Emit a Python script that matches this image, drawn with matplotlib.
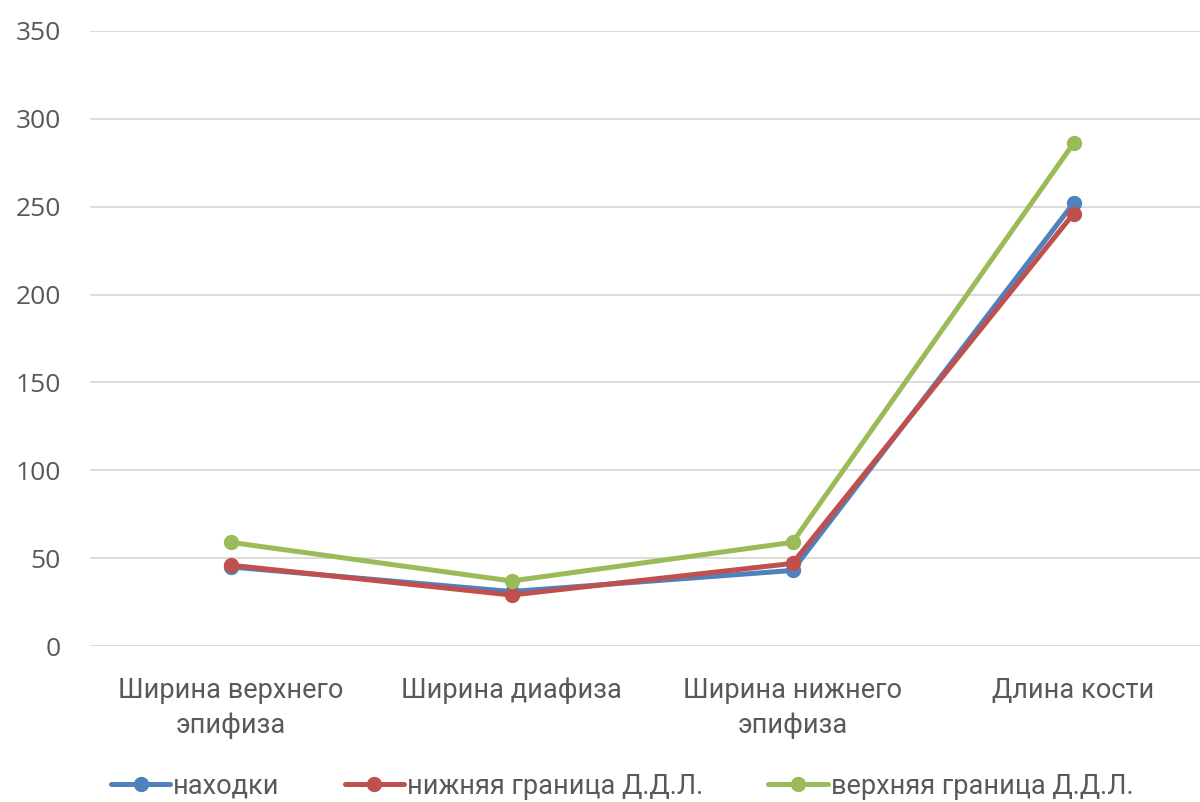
import matplotlib
matplotlib.use("Agg")
import matplotlib.pyplot as plt
from matplotlib import font_manager

categories = ["Ширина верхнего\nэпифиза", "Ширина диафиза", "Ширина нижнего\nэпифиза", "Длина кости"]
finds = [45, 31, 43, 252]
lower_bound = [46, 29, 47, 246]
upper_bound = [59, 37, 59, 286]
series_names = ["находки", "нижняя граница Д.Д.Л.", "верхняя граница Д.Д.Л."]
y_ticks = [0, 50, 100, 150, 200, 250, 300, 350]

colors = ["#4F81BD", "#C0504D", "#9BBB59"]

names = {f.name for f in font_manager.fontManager.ttflist}
label_font = ["Liberation Sans Narrow", "DejaVu Sans"] if "Liberation Sans Narrow" in names else ["Roboto", "DejaVu Sans"]
tick_font = ["Open Sans", "DejaVu Sans"]

fig = plt.figure(figsize=(12, 8.02), dpi=100)
ax = fig.add_axes([90 / 1200, (802 - 646) / 802, 1124 / 1200, (646 - 31) / 802])

x = list(range(len(categories)))
for vals, name, c in zip([finds, lower_bound, upper_bound], series_names, colors):
    ax.plot(x, vals, color=c, lw=3.6, marker="o", markersize=10, label=name,
            solid_capstyle="round", zorder=3)

ax.set_xlim(-0.5, len(categories) - 0.5)
ax.set_ylim(0, 350)
ax.set_yticks(y_ticks)
ax.set_xticks(x)
ax.set_xticklabels(categories, fontsize=19.5, color="#595959", family=label_font, linespacing=1.38)
for t in ax.get_yticklabels():
    t.set_family(tick_font)
ax.tick_params(axis="y", labelsize=19, colors="#595959", length=0, pad=21)
ax.tick_params(axis="x", length=0, pad=22)
ax.grid(axis="y", color="#D9D9D9", lw=1.3)
ax.set_axisbelow(True)
for s in ax.spines.values():
    s.set_visible(False)

leg = fig.legend(loc="center", bbox_to_anchor=(622 / 1200, 1 - 786 / 802), ncol=3, frameon=False,
                 prop={"family": label_font, "size": 19.5}, handlelength=2.2, handletextpad=0.1,
                 columnspacing=2.4, labelcolor="#595959")

fig.savefig("out.png", dpi=100)
